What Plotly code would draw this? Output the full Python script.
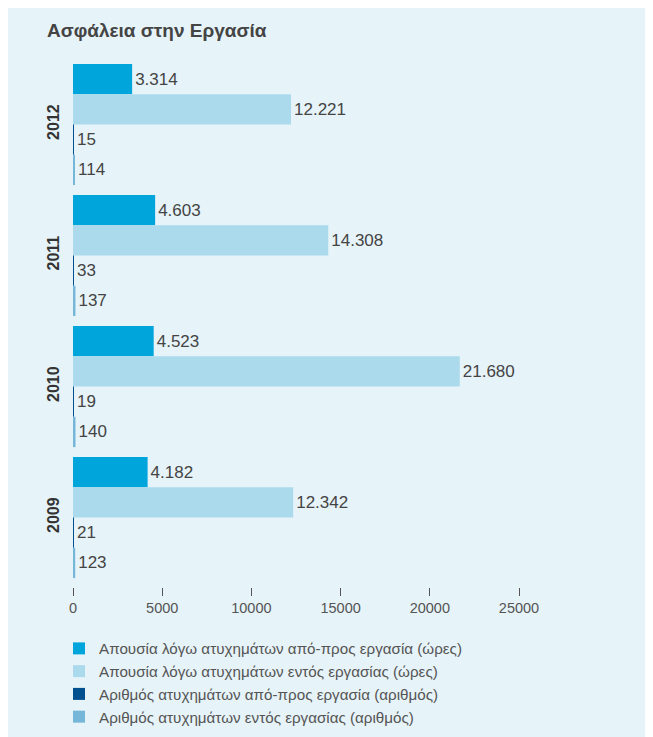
import plotly.graph_objects as go

years = ["2012", "2011", "2010", "2009"]
series_names = [
    "Απουσία λόγω ατυχημάτων από-προς εργασία (ώρες)",
    "Απουσία λόγω ατυχημάτων εντός εργασίας (ώρες)",
    "Αριθμός ατυχημάτων από-προς εργασία (αριθμός)",
    "Αριθμός ατυχημάτων εντός εργασίας (αριθμός)",
]
absence_commute_hours = [3314, 4603, 4523, 4182]
absence_work_hours = [12221, 14308, 21680, 12342]
accidents_commute_count = [15, 33, 19, 21]
accidents_work_count = [114, 137, 140, 123]
x_ticks = [0, 5000, 10000, 15000, 20000, 25000]

series_values = [absence_commute_hours, absence_work_hours,
                 accidents_commute_count, accidents_work_count]
colors = ["#00a5dc", "#acdaed", "#00508f", "#76b6d9"]

W, H = 653, 737
L, R, T, B = 65, 142, 51, 158

fig = go.Figure()
for name, vals, col in zip(series_names, series_values, colors):
    fig.add_trace(go.Bar(
        y=years, x=vals, name=name, orientation="h",
        marker=dict(color=col, line=dict(width=0)),
        text=vals, texttemplate="%{x:,}", textposition="outside",
        textfont=dict(size=17, color="#444444"),
        cliponaxis=False,
    ))

fig.update_layout(
    width=W, height=H,
    margin=dict(l=L, r=R, t=T, b=B, autoexpand=False),
    barmode="group", bargap=0.076, bargroupgap=0,
    separators=",.",
    paper_bgcolor="#e6f3f8", plot_bgcolor="#e6f3f8",
    font=dict(family="Liberation Sans, Arial, sans-serif", color="#555555"),
    title=dict(text="<b>Ασφάλεια στην Εργασία</b>", x=39 / W, xanchor="left",
               xref="container", y=1 - 22 / H, yanchor="middle", yref="container",
               font=dict(size=19, color="#444444")),
    xaxis=dict(range=[0, 25000], tickvals=x_ticks, ticktext=[str(v) for v in x_ticks],
               showgrid=False, zeroline=False, showline=False,
               ticks="outside", ticklen=8, tickwidth=1, tickcolor="#555555",
               tickfont=dict(size=14.5, color="#555555")),
    yaxis=dict(categoryorder="array", categoryarray=years,
               range=[3.53, -0.5], showgrid=False, zeroline=False, showline=False,
               tickangle=-90, ticks="", ticklabelstandoff=10,
               tickfont=dict(size=16, color="#333333", weight="bold")),
    legend=dict(orientation="v", xref="container", x=51 / W, xanchor="left",
                yref="container", y=1 - 624 / H, yanchor="top",
                font=dict(size=15.2, color="#555555"),
                bgcolor="rgba(0,0,0,0)", traceorder="normal"),
)

fig.write_html("out.html")
